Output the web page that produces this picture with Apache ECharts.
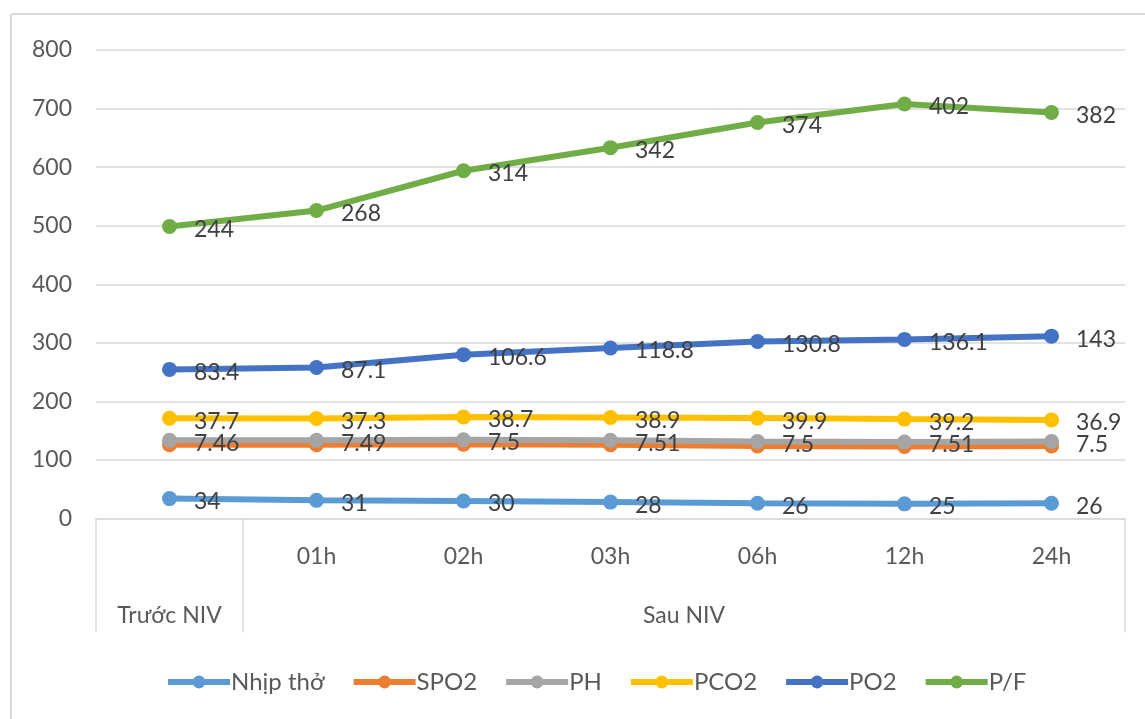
<!DOCTYPE html>
<html>
<head>
<meta charset="utf-8">
<title>NIV</title>
<script src="https://cdn.jsdelivr.net/npm/echarts@6/dist/echarts.min.js"></script>
<style>
  html, body { margin: 0; padding: 0; background: #fff; }
  #chart { width: 1145px; height: 719px; }
</style>
</head>
<body>
<div id="chart"></div>
<script>
// Time points (first level of the category axis) and their groups (second level)
const categories = ['', '01h', '02h', '03h', '06h', '12h', '24h'];
const groupLabels = ['Trước NIV', 'Sau NIV'];
const groupSpans = [1, 6];

// Series values (stacked lines)
const nhipTho = [34, 31, 30, 28, 26, 25, 26];
const spo2    = [92, 95, 97, 98, 98, 98, 98];
const ph      = [7.46, 7.49, 7.5, 7.51, 7.5, 7.51, 7.5];
const pco2    = [37.7, 37.3, 38.7, 38.9, 39.9, 39.2, 36.9];
const po2     = [83.4, 87.1, 106.6, 118.8, 130.8, 136.1, 143];
const pf      = [244, 268, 314, 342, 374, 402, 382];

const seriesNames = ['Nhịp thở', 'SPO2', 'PH', 'PCO2', 'PO2', 'P/F'];
const seriesData = [nhipTho, spo2, ph, pco2, po2, pf];
const seriesColors = ['#5B9BD5', '#ED7D31', '#A5A5A5', '#FFC000', '#4472C4', '#70AD47'];
const showLabels = [true, false, true, true, true, true];

const FONT = 'Lato, "Open Sans", sans-serif';
const GRID_COLOR = '#d9d9d9';

const chart = echarts.init(document.getElementById('chart'), null, { renderer: 'canvas' });

const option = {
  animation: false,
  backgroundColor: '#fff',
  textStyle: { fontFamily: FONT },
  grid: { left: 96, right: 20, top: 50, bottom: 200.5, containLabel: false },
  legend: {
    left: 160,
    top: 665,
    itemWidth: 62,
    itemHeight: 16,
    itemGap: 26,
    lineStyle: { width: 6 },
    textStyle: { fontSize: 24, color: '#595959', fontFamily: FONT, padding: [0, 0, 0, -4] },
    data: seriesNames
  },
  xAxis: {
    type: 'category',
    data: categories,
    boundaryGap: true,
    axisLine: { show: true, lineStyle: { color: GRID_COLOR, width: 1.5 } },
    axisTick: { show: false },
    axisLabel: { margin: 27, fontSize: 23, color: '#595959', fontFamily: FONT, interval: 0 }
  },
  yAxis: {
    type: 'value',
    min: 0,
    max: 800,
    interval: 100,
    axisLine: { show: false },
    axisTick: { show: false },
    axisLabel: { margin: 24, fontSize: 23, color: '#595959', fontFamily: FONT },
    splitLine: { lineStyle: { color: GRID_COLOR, width: 1.5 } }
  },
  series: seriesNames.map((name, i) => ({
    name: name,
    type: 'line',
    stack: 'total',
    data: seriesData[i],
    symbol: 'circle',
    symbolSize: 15,
    color: seriesColors[i],
    lineStyle: { width: 6, color: seriesColors[i] },
    itemStyle: { color: seriesColors[i] },
    label: {
      show: showLabels[i],
      position: 'right',
      distance: 17,
      offset: [0, 3],
      fontSize: 23,
      color: '#404040',
      fontFamily: FONT
    },
    emphasis: { disabled: true }
  }))
};

chart.setOption(option);

// Second level of the category axis: a small table under the axis with group names
function drawCategoryTable() {
  const y0 = chart.convertToPixel({ yAxisIndex: 0 }, 0);
  const c0 = chart.convertToPixel({ xAxisIndex: 0 }, 0);
  const c1 = chart.convertToPixel({ xAxisIndex: 0 }, 1);
  const band = c1 - c0;
  const tableDepth = 114;
  const elements = [];

  let startIdx = 0;
  const edges = [c0 - band / 2];
  groupSpans.forEach((span, g) => {
    const left = c0 - band / 2 + startIdx * band;
    const right = left + span * band;
    edges.push(right);
    elements.push({
      type: 'text',
      style: {
        text: groupLabels[g],
        x: (left + right) / 2,
        y: y0 + 97,
        align: 'center',
        verticalAlign: 'middle',
        fontSize: 23,
        fontFamily: FONT,
        fill: '#595959'
      },
      silent: true
    });
    startIdx += span;
  });

  edges.forEach(x => {
    elements.push({
      type: 'line',
      shape: { x1: x, y1: y0, x2: x, y2: y0 + tableDepth },
      style: { stroke: GRID_COLOR, lineWidth: 1.5 },
      silent: true
    });
  });

  // Outer frame of the chart area
  elements.push({
    type: 'rect',
    shape: { x: 11, y: 14, width: 1160, height: 760, r: 2 },
    style: { fill: 'none', stroke: GRID_COLOR, lineWidth: 2 },
    silent: true,
    z: -1
  });

  chart.setOption({ graphic: { elements: elements } });
}

drawCategoryTable();
</script>
</body>
</html>
